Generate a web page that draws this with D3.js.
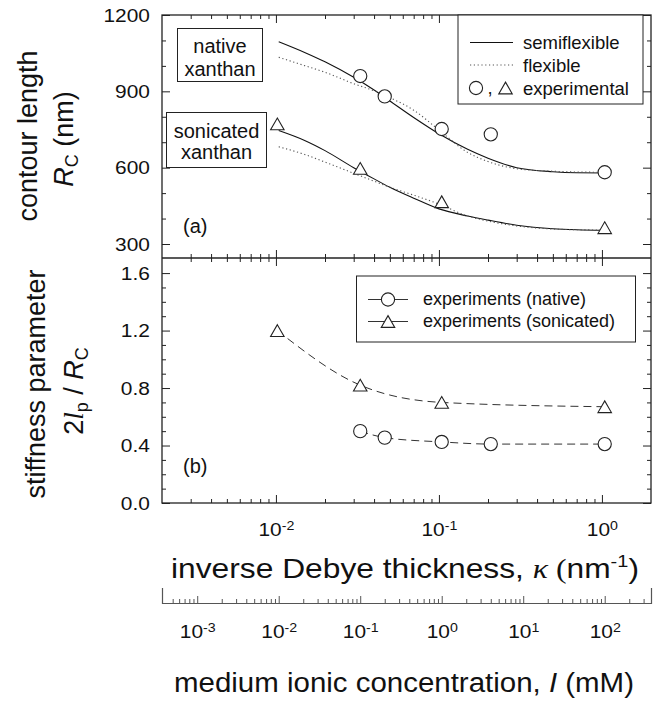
<!DOCTYPE html>
<html>
<head>
<meta charset="utf-8">
<script src="https://cdn.jsdelivr.net/npm/d3@7"></script>
<style>
  body { margin: 0; background: #fff; }
  svg text { font-family: "Liberation Sans", Arial, sans-serif; fill: #111; }
</style>
</head>
<body>
<script>
// ---- values ----
// experimental points, x = inverse Debye thickness kappa (nm^-1)
const kappaNative = [0.0329, 0.0465, 0.104, 0.208, 1.04];
const kappaSonic = [0.0102, 0.0329, 0.104, 1.04];
const contourNative = [960, 880, 752, 731, 582];      // Rc (nm)
const contourSonic = [772, 597, 466, 364];
const stiffNative = [0.50, 0.455, 0.425, 0.41, 0.41]; // 2lp / Rc
const stiffSonic = [1.20, 0.82, 0.70, 0.67];

// model curves of panel (a), read at these kappa values
const kappaGrid = [0.0104, 0.015, 0.02, 0.03, 0.04, 0.05, 0.07, 0.1, 0.15, 0.2, 0.3, 0.5, 0.7, 1.04];
const semiflexNative = [1095, 1053, 1016, 955, 905, 862, 797, 733, 672, 637, 600, 584, 580, 579];
const flexNative = [1034, 1001, 975, 930, 902, 875, 826, 748, 660, 624, 596, 586, 583, 582];
const semiflexSonic = [746, 707, 667, 600, 556, 523, 480, 438, 410, 394, 374, 360, 356, 354];
const flexSonic = [682, 652, 622, 578, 547, 523, 492, 457, 410, 390, 371, 359, 356, 355];

// ticks
const contourMajor = [300, 600, 900, 1200];
const contourMinor = [400, 500, 700, 800, 1000, 1100];
const stiffMajor = [0, 0.4, 0.8, 1.2, 1.6];
const stiffMinor = [0.1, 0.2, 0.3, 0.5, 0.6, 0.7, 0.9, 1.0, 1.1, 1.3, 1.4, 1.5];
const kappaMajor = [0.01, 0.1, 1];
const ionicMajor = [0.001, 0.01, 0.1, 1, 10, 100];
const kappaPerSqrtI = 0.104; // kappa (nm^-1) = 0.104 * sqrt(I in mM)

// ---- layout ----
const W = 666, H = 706;
const plotL = 162, plotR = 651, plotT = 15, plotMid = 258, plotB = 503;
const ionicY = 603;
const ink = "#222";
const stretch = 1.1; // tick labels are a little wide in the original

const svg = d3.select("body").append("svg").attr("width", W).attr("height", H);

const x = d3.scaleLog().domain([0.002, 2]).range([plotL, plotR]);
const yA = d3.scaleLinear().domain([245, 1200]).range([plotMid, plotT]);
const yB = d3.scaleLinear().domain([0, 1.705]).range([plotB, plotMid]);
const xI = d3.scaleLog()
    .domain(x.domain().map(k => (k / kappaPerSqrtI) ** 2))
    .range([plotL, plotR]);

// minor ticks 2..9 of each decade, away from the ends
function logMinor(scale) {
    const [a, b] = scale.domain();
    const out = [];
    for (let e = Math.floor(Math.log10(a)); e <= Math.ceil(Math.log10(b)); e++) {
        for (let m = 2; m <= 9; m++) {
            const v = m * Math.pow(10, e);
            const px = scale(v);
            if (v > a && v < b && px - plotL > 3 && plotR - px > 3) out.push(v);
        }
    }
    return out;
}

function powLabels(g, size) {
    g.selectAll(".tick text").each(function(d) {
        const t = d3.select(this).text(null);
        t.append("tspan").text("10");
        t.append("tspan").attr("dy", "-0.5em").attr("font-size", size * 0.68)
            .text(Math.round(Math.log10(d)));
    });
}

function axis(gen, scale, vals, size, pos, fmt, pad) {
    const g = svg.append("g").attr("transform", pos)
        .call(gen(scale).tickValues(vals).tickSizeInner(size).tickSizeOuter(0)
            .tickPadding(pad || 11).tickFormat(fmt || (() => "")));
    g.select(".domain").remove();
    g.attr("font-size", 19);
    g.selectAll(".tick line").attr("stroke", ink);
    g.selectAll(".tick text").attr("transform", `scale(${stretch},1)`);
    return g;
}

const kMinor = logMinor(x);

// left / right axes
axis(d3.axisLeft, yA, contourMinor, -4, `translate(${plotL},0)`);
axis(d3.axisLeft, yA, contourMajor, -8, `translate(${plotL},0)`, d3.format("d"));
axis(d3.axisRight, yA, contourMinor, -4, `translate(${plotR},0)`);
axis(d3.axisRight, yA, contourMajor, -8, `translate(${plotR},0)`);
axis(d3.axisLeft, yB, stiffMinor, -4, `translate(${plotL},0)`);
axis(d3.axisLeft, yB, stiffMajor, -8, `translate(${plotL},0)`, d3.format(".1f"));
axis(d3.axisRight, yB, stiffMinor, -4, `translate(${plotR},0)`);
axis(d3.axisRight, yB, stiffMajor, -8, `translate(${plotR},0)`);

// kappa axes: top, both sides of the divider, bottom
axis(d3.axisTop, x, kMinor, -4, `translate(0,${plotT})`);
axis(d3.axisTop, x, kappaMajor, -8, `translate(0,${plotT})`);
axis(d3.axisBottom, x, kMinor, -4, `translate(0,${plotMid})`);
axis(d3.axisBottom, x, kappaMajor, -8, `translate(0,${plotMid})`);
axis(d3.axisTop, x, kMinor, -4, `translate(0,${plotMid})`);
axis(d3.axisTop, x, kappaMajor, -8, `translate(0,${plotMid})`);
axis(d3.axisBottom, x, kMinor, -4, `translate(0,${plotB})`);
powLabels(axis(d3.axisBottom, x, kappaMajor, -8, `translate(0,${plotB})`, d => d, 20), 19);

// frame
svg.append("rect")
    .attr("x", plotL).attr("y", plotT)
    .attr("width", plotR - plotL).attr("height", plotB - plotT)
    .attr("fill", "none").attr("stroke", ink).attr("stroke-width", 1.3);
svg.append("line")
    .attr("x1", plotL).attr("x2", plotR).attr("y1", plotMid).attr("y2", plotMid)
    .attr("stroke", ink).attr("stroke-width", 1.3);

// ionic concentration axis
const gI = svg.append("g").attr("transform", `translate(0,${ionicY})`)
    .call(d3.axisBottom(xI).tickValues(logMinor(xI)).tickSizeInner(-4).tickSizeOuter(0).tickFormat(() => ""));
gI.select(".domain").remove();
const gI2 = svg.append("g").attr("transform", `translate(0,${ionicY})`)
    .call(d3.axisBottom(xI).tickValues(ionicMajor).tickSizeInner(-7).tickSizeOuter(-15)
        .tickPadding(22).tickFormat(d => d));
gI2.attr("font-size", 19);
gI2.select(".domain").attr("stroke", "#555").attr("stroke-width", 1.2);
gI.selectAll(".tick line").attr("stroke", "#555");
gI2.selectAll(".tick line").attr("stroke", "#555");
gI2.selectAll(".tick text").attr("transform", `scale(${stretch},1)`);
powLabels(gI2, 19);

// ---- panel (a) curves ----
const lineA = d3.line().x(d => x(d[0])).y(d => yA(d[1])).curve(d3.curveMonotoneX);
const curvesA = [
    { v: semiflexNative, dash: null, color: "#111" },
    { v: semiflexSonic, dash: null, color: "#111" },
    { v: flexNative, dash: "1.2,2.6", color: "#555" },
    { v: flexSonic, dash: "1.2,2.6", color: "#555" }
];
curvesA.forEach(c => {
    svg.append("path")
        .attr("d", lineA(kappaGrid.map((k, i) => [k, c.v[i]])))
        .attr("fill", "none").attr("stroke", c.color).attr("stroke-width", 1.1)
        .attr("stroke-dasharray", c.dash);
});

// ---- panel (b) dashed lines ----
const lineB = d3.line().x(d => x(d[0])).y(d => yB(d[1])).curve(d3.curveMonotoneX);
[[kappaNative, stiffNative], [kappaSonic, stiffSonic]].forEach(([ks, vs]) => {
    svg.append("path")
        .attr("d", lineB(ks.map((k, i) => [k, vs[i]])))
        .attr("fill", "none").attr("stroke", "#333").attr("stroke-width", 1)
        .attr("stroke-dasharray", "8,5");
});

// markers
function circle(cx, cy) {
    svg.append("circle").attr("cx", cx).attr("cy", cy).attr("r", 6.6)
        .attr("fill", "#fff").attr("stroke", ink).attr("stroke-width", 1.1);
}
function triangle(cx, cy) {
    const s = 13.5, h = s * 0.87;
    svg.append("path")
        .attr("d", `M${cx},${cy - h / 2}L${cx + s / 2},${cy + h / 2}L${cx - s / 2},${cy + h / 2}Z`)
        .attr("fill", "#fff").attr("stroke", ink).attr("stroke-width", 1.1);
}
kappaNative.forEach((k, i) => circle(x(k), yA(contourNative[i])));
kappaSonic.forEach((k, i) => triangle(x(k), yA(contourSonic[i])));
kappaNative.forEach((k, i) => circle(x(k), yB(stiffNative[i])));
kappaSonic.forEach((k, i) => triangle(x(k), yB(stiffSonic[i])));

// ---- labels inside panels ----
function box(x0, y0, w, h) {
    svg.append("rect").attr("x", x0).attr("y", y0).attr("width", w).attr("height", h)
        .attr("fill", "#fff").attr("stroke", ink).attr("stroke-width", 1);
}
function label(tx, ty, s, size, anchor) {
    return svg.append("text").attr("x", tx).attr("y", ty).attr("font-size", size || 19)
        .attr("text-anchor", anchor || "start").text(s);
}

box(177.5, 28.5, 85, 53);
label(220, 53, "native", 20, "middle");
label(220, 76, "xanthan", 20, "middle");
box(166.5, 112.5, 100, 55);
label(216.5, 138, "sonicated", 20, "middle");
label(216.5, 159, "xanthan", 20, "middle");
label(183, 233, "(a)", 20);
label(183, 473, "(b)", 20);

// legend (a)
box(458, 15, 185, 89);
svg.append("line").attr("x1", 470).attr("x2", 513).attr("y1", 42.5).attr("y2", 42.5)
    .attr("stroke", "#111").attr("stroke-width", 1.1);
svg.append("line").attr("x1", 470).attr("x2", 513).attr("y1", 65).attr("y2", 65)
    .attr("stroke", "#555").attr("stroke-width", 1.1).attr("stroke-dasharray", "1.2,2.6");
label(523, 48.5, "semiflexible", 18.5);
label(523, 71.5, "flexible", 18.5);
circle(476, 88);
label(490, 94, ",", 18.5, "middle");
triangle(505.5, 88);
label(523, 94.5, "experimental", 18.5);

// legend (b)
box(356.5, 276, 279, 66);
[[299.5, circle, "experiments (native)"], [321.5, triangle, "experiments (sonicated)"]].forEach(([ly, mk, s]) => {
    svg.append("line").attr("x1", 368).attr("x2", 408).attr("y1", ly).attr("y2", ly)
        .attr("stroke", "#333").attr("stroke-width", 1);
    mk(388, ly);
    label(423, ly + 5.5, s, 18);
});

// ---- axis titles ----
function vtitle(tx, ty) {
    return svg.append("text").attr("font-size", 27).attr("text-anchor", "middle")
        .attr("transform", `translate(${tx},${ty}) rotate(-90)`);
}
vtitle(37, 136).text("contour length");
const tA = vtitle(73, 139);
tA.append("tspan").attr("font-style", "italic").text("R");
tA.append("tspan").attr("font-size", 18).attr("dy", 5).text("C");
tA.append("tspan").attr("dy", -5).text(" (nm)");

vtitle(45, 384).text("stiffness parameter");
const tB = vtitle(83, 391);
tB.append("tspan").text("2");
tB.append("tspan").attr("font-family", "'Liberation Serif', serif").attr("font-style", "italic").text("l");
tB.append("tspan").attr("font-size", 18).attr("dy", 5).text("p");
tB.append("tspan").attr("dy", -5).text(" / ");
tB.append("tspan").attr("font-style", "italic").text("R");
tB.append("tspan").attr("font-size", 18).attr("dy", 5).text("C");

// horizontal titles, stretched to the width they have in the original
function htitle(cx, by, width) {
    const g = svg.append("g");
    const t = g.append("text").attr("font-size", 27).attr("text-anchor", "middle");
    return { g, t, fit() {
        const w = t.node().getBBox().width;
        g.attr("transform", `translate(${cx},${by}) scale(${width / w},1)`);
    } };
}
const tK = htitle(405, 578, 468);
tK.t.append("tspan").text("inverse Debye thickness, ");
tK.t.append("tspan").attr("font-family", "'Liberation Serif', serif").attr("font-style", "italic").text("κ");
tK.t.append("tspan").attr("font-family", "'Liberation Serif', serif").text(" (");
tK.t.append("tspan").text("nm");
tK.t.append("tspan").attr("font-size", 17).attr("dy", -11).text("-1");
tK.t.append("tspan").attr("dy", 11).text(")");
tK.fit();

const tI = htitle(404, 692, 460);
tI.t.append("tspan").text("medium ionic concentration, ");
tI.t.append("tspan").attr("font-style", "italic").text("I");
tI.t.append("tspan").text(" (mM)");
tI.fit();
</script>
</body>
</html>
